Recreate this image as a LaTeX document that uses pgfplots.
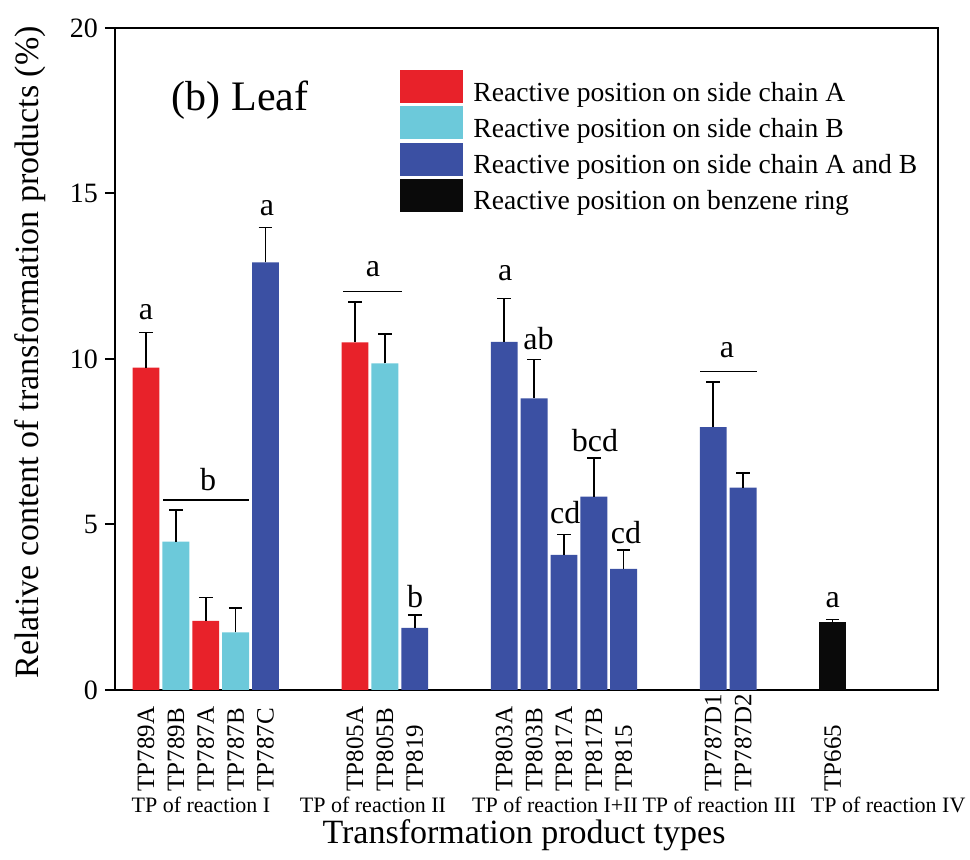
\documentclass[border=0pt]{standalone}
\usepackage{fontspec}
\setmainfont{Liberation Serif}
\usepackage{pgfplots}
\usepackage{pgfplotstable}
\pgfplotsset{compat=1.18}
\definecolor{cRed}{HTML}{E8222A}
\definecolor{cCyan}{HTML}{6CC9DA}
\definecolor{cBlue}{HTML}{3B50A3}
\definecolor{cBlack}{HTML}{0A0A0A}

\pgfplotstableread{
x y e
0 9.74 1.06
2 2.09 0.70
7 10.50 1.23
}\tA
\pgfplotstableread{
x y e
1 4.48 0.96
3 1.74 0.73
8 9.87 0.88
}\tB
\pgfplotstableread{
x y e
4 12.92 1.05
9 1.88 0.39
12 10.52 1.31
13 8.81 1.18
14 4.08 0.62
15 5.84 1.16
16 3.66 0.57
19 7.94 1.37
20 6.11 0.45
}\tAB
\pgfplotstableread{
x y e
23 2.04 0.09
}\tR

\begin{document}
\begin{tikzpicture}
\useasboundingbox (-57.5pt,-85pt) rectangle (427.5pt,345pt);
\begin{axis}[
  at={(0pt,0pt)}, anchor=south west,
  scale only axis, width=411.5pt, height=331pt,
  xmin=-1.04, xmax=26.53, ymin=0, ymax=20,
  ytick={0,5,10,15,20},
  ytick pos=left,
  tick align=outside,
  major tick length=5pt,
  every tick/.style={black, line width=1pt},
  xtick={0,1,2,3,4,7,8,9,12,13,14,15,16,19,20,23},
  xticklabels={TP789A,TP789B,TP787A,TP787B,TP787C,TP805A,TP805B,TP819,TP803A,TP803B,TP817A,TP817B,TP815,TP787D1,TP787D2,TP665},
  xtick style={draw=none},
  xticklabel style={font=\fontsize{12.5}{14}\selectfont, inner sep=0pt, yshift=-46pt, rotate=90, anchor=west},
  yticklabel style={font=\fontsize{14}{16}\selectfont},
  /pgf/number format/assume math mode=true,
  axis line style={line width=1pt},
  clip=false,
  ybar, bar width=0.9,
  every axis y label/.style={at={(axis description cs:-0.1033,0.51)}, rotate=90, anchor=center, font=\fontsize{17}{20}\selectfont},
  every axis x label/.style={at={(axis description cs:0.497,-0.219)}, anchor=center, font=\fontsize{17}{20}\selectfont},
  ylabel={Relative content of transformation products (\%)},
  xlabel={Transformation product types},
  legend image code/.code={\fill[#1,draw=none] (0pt,-5pt) rectangle (31.5pt,11.5pt); \path (36.5pt,0pt);},
  legend style={at={(axis description cs:0.3463,0.9366)}, anchor=north west, draw=none, fill=none,
    font=\fontsize{13.8}{16}\selectfont, row sep=1pt, inner sep=0pt, nodes={inner sep=0pt}},
  legend cell align=left,
  error bars/error bar style={black, line width=0.8pt},
  error bars/error mark options={rotate=90, mark size=3.4pt, line width=0.8pt, black},
]
\addplot[fill=cRed, draw=none, bar shift=0pt, error bars/.cd, y dir=plus, y explicit] table[x=x, y=y, y error=e] {\tA};
\addlegendentry{Reactive position on side chain A}
\addplot[fill=cCyan, draw=none, bar shift=0pt, error bars/.cd, y dir=plus, y explicit] table[x=x, y=y, y error=e] {\tB};
\addlegendentry{Reactive position on side chain B}
\addplot[fill=cBlue, draw=none, bar shift=0pt, error bars/.cd, y dir=plus, y explicit] table[x=x, y=y, y error=e] {\tAB};
\addlegendentry{Reactive position on side chain A and B}
\addplot[fill=cBlack, draw=none, bar shift=0pt, error bars/.cd, y dir=plus, y explicit] table[x=x, y=y, y error=e] {\tR};
\addlegendentry{Reactive position on benzene ring}

% significance letters
\begin{scope}[every node/.style={font=\fontsize{16}{18}\selectfont, inner sep=0pt}]
\node at (axis cs:0,11.42) {a};
\draw[line width=0.6pt] (axis cs:0.57,5.74) -- (axis cs:3.45,5.74);
\node at (axis cs:2.08,6.37) {b};
\node at (axis cs:4.05,14.56) {a};
\draw[line width=0.6pt] (axis cs:6.6,12.03) -- (axis cs:8.58,12.03);
\node at (axis cs:7.6,12.72) {a};
\node at (axis cs:9.01,2.81) {b};
\node at (axis cs:12.03,12.6) {a};
\node at (axis cs:13.15,10.63) {ab};
\node at (axis cs:14.04,5.35) {cd};
\node at (axis cs:15.04,7.55) {bcd};
\node at (axis cs:16.08,4.77) {cd};
\draw[line width=0.6pt] (axis cs:18.56,9.61) -- (axis cs:20.47,9.61);
\node at (axis cs:19.46,10.27) {a};
\node at (axis cs:23.0,2.72) {a};
\end{scope}

% title
\node[font=\fontsize{21}{24}\selectfont] at (axis cs:3.15,17.82) {(b) Leaf};

% group labels
\begin{scope}[every node/.style={font=\fontsize{11}{13}\selectfont, inner sep=0pt}]
\node at (axis cs:1.84,-3.47) {TP of reaction I};
\node at (axis cs:7.6,-3.47) {TP of reaction II};
\node at (axis cs:13.7,-3.47) {TP of reaction I+II};
\node at (axis cs:19.2,-3.47) {TP of reaction III};
\node at (axis cs:24.86,-3.47) {TP of reaction IV};
\end{scope}
\end{axis}
\end{tikzpicture}
\end{document}
